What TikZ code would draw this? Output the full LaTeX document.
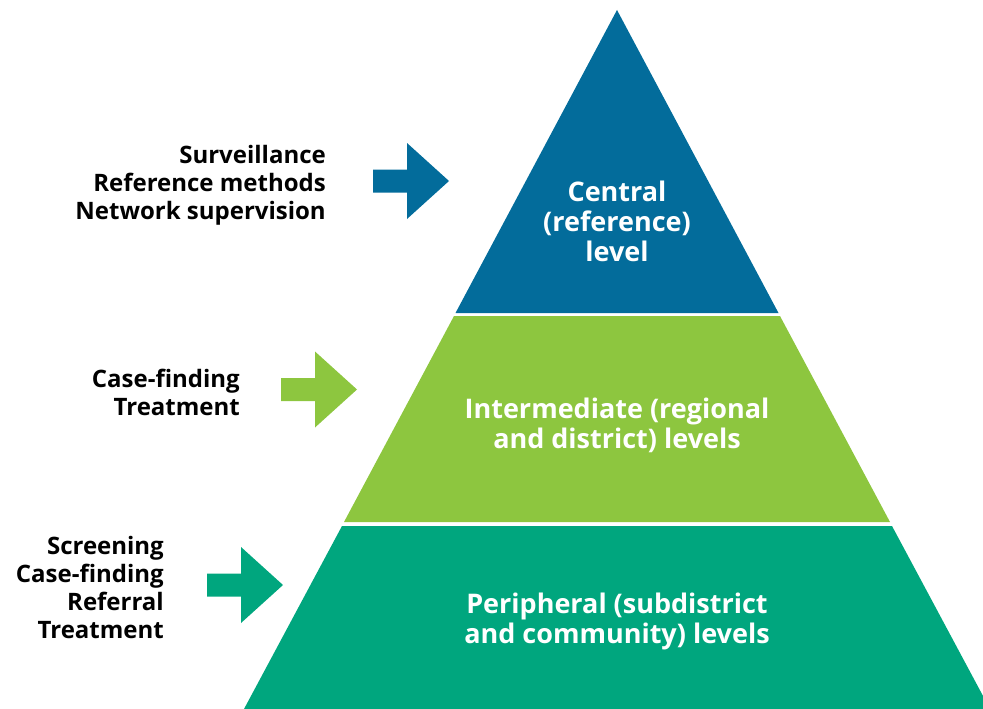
\documentclass[tikz,border=0pt]{standalone}
\usepackage{fontspec}
\setmainfont{Open Sans}
\usepackage{xcolor}

\definecolor{centralblue}{RGB}{3,108,155}
\definecolor{midgreen}{RGB}{141,198,63}
\definecolor{baseteal}{RGB}{0,166,126}

\tikzset{
  tasks/.style={font=\bfseries\fontsize{24}{28}\selectfont,align=right,inner sep=0pt,anchor=east},
  levelname/.style={font=\bfseries\fontsize{27}{30}\selectfont,text=white,align=center,inner sep=0pt},
  pics/blockarrow/.style={code={
    \fill[#1](0,-11.5)--(34,-11.5)--(34,-38)--(76,0)--(34,38)--(34,11.5)--(0,11.5)--cycle;}}
}

\begin{document}
\begin{tikzpicture}[x=1pt,y=-1pt]
            \path[use as bounding box](0,0)rectangle(983,709);
            % the three levels, cut off by the right margin
            \begin{scope}
                \clip(0,0)rectangle(983,709);
                \fill[centralblue](617,10)--(778.5,313)--(455.5,313)--cycle;
                \fill[midgreen](454,316)--(780,316)--(890,522)--(344,522)--cycle;
                \fill[baseteal](342,526)--(892,526)--(990,709)--(244,709)--cycle;
            \end{scope}
            \node[levelname](central) at (617,221){Central\\(reference)\\level};
            \node[levelname](intermediate) at (617,425.5){Intermediate (regional\\and district) levels};
            \node[levelname](peripheral) at (617,621){Peripheral (subdistrict\\and community) levels};
            % arrows and tasks
            \pic(centralarrow) at (373,181){blockarrow=centralblue};
            \pic(interarrow) at (281,389.5){blockarrow=midgreen};
            \pic(periphararrow) at (207,585){blockarrow=baseteal};
            \node[tasks](centraltasks) at (326,185){Surveillance\\Reference methods\\Network supervision};
            \node[tasks](intertasks) at (240,392.5){Case-finding\\Treatment};
            \node[tasks](periphtasks) at (164,587){Screening\\Case-finding\\Referral\\Treatment};
        \end{tikzpicture}
\end{document}
